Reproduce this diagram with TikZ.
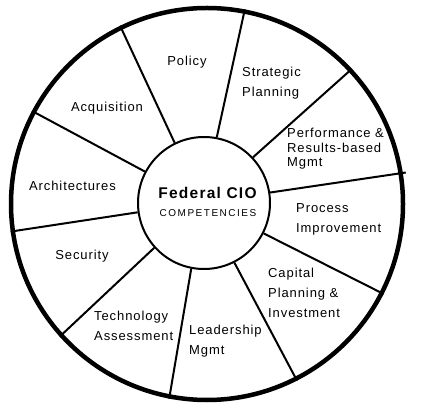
\documentclass[tikz,border=0pt]{standalone}
\usepackage{fontspec}
\setmainfont{Liberation Sans}
\newfontfamily\labfont[LetterSpace=7]{Liberation Sans}
\newfontfamily\hubfont[LetterSpace=8]{Liberation Sans}
\newfontfamily\subfont[LetterSpace=15]{Liberation Sans}
\begin{document}
\begin{tikzpicture}[x=1pt,y=1pt,
  lab/.style={font=\labfont\fontsize{13}{20}\selectfont, align=left, inner sep=0pt},
  tightlab/.style={font=\labfont\fontsize{13}{14.5}\selectfont, align=left, inner sep=0pt},
  spoke/.style={line width=2pt}]
\useasboundingbox (0,0) rectangle (422,409);
\node[circle, draw, line width=4.5pt, minimum size=392pt, inner sep=0pt] (rim) at (207,205) {};
\node[circle, draw, line width=2pt, minimum size=132pt, inner sep=0pt] (hub) at (204,206) {};
\foreach \a in {116.5,79.5,43.5,-27.5,-63,-101,-138,-172,152.3}
  \draw[spoke] (hub.\a) -- (rim.\a);
\coordinate (tip) at ([shift={(9.5:3)}]rim.9.5);
\draw[spoke] (hub.9.5) -- (tip);
\node[font=\hubfont\bfseries\fontsize{15.5}{18}\selectfont, inner sep=0pt] (t1) at (207.5,216) {Federal CIO};
\node[font=\subfont\fontsize{10}{12}\selectfont, inner sep=0pt] (t2) at (208,196) {COMPETENCIES};
\node[lab] (policy) at (187,347) {Policy};
\node[lab, anchor=west] (strat) at (242,326) {Strategic\\Planning};
\node[tightlab, anchor=west] (perf) at (287,260) {Performance \&\\Results-based\\Mgmt};
\node[lab, anchor=west] (proc) at (296,190) {Process\\Improvement};
\node[lab, anchor=west] (cap) at (268,116) {Capital\\Planning \&\\Investment};
\node[lab, anchor=west] (lead) at (189,68) {Leadership\\Mgmt};
\node[lab, anchor=west] (tech) at (94,83.5) {Technology\\Assessment};
\node[lab] (sec) at (82,153) {Security};
\node[lab] (arch) at (72.5,223) {Architectures};
\node[lab] (acq) at (107,301) {Acquisition};
\end{tikzpicture}
\end{document}
